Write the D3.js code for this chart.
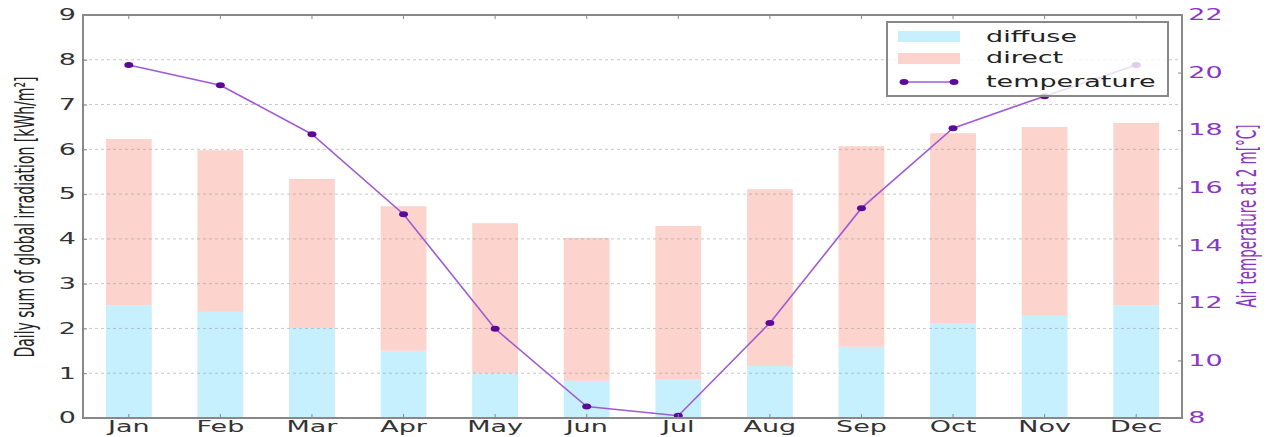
<!DOCTYPE html>
<html>
<head>
<meta charset="utf-8">
<script src="https://cdn.jsdelivr.net/npm/d3@7"></script>
<style>
  body { margin: 0; background: #fff; }
  text { font-family: "DejaVu Sans", sans-serif; }
</style>
</head>
<body>
<div id="vis-container"></div>
<script>
// monthly values
let months = ["Jan","Feb","Mar","Apr","May","Jun","Jul","Aug","Sep","Oct","Nov","Dec"];
let diffuse = [2.52,2.37,2.01,1.50,1.00,0.83,0.87,1.16,1.59,2.12,2.28,2.52];
let direct = [3.71,3.61,3.33,3.23,3.35,3.19,3.42,3.95,4.48,4.24,4.22,4.07];
let temperature = [20.26,19.56,17.86,15.08,11.10,8.40,8.08,11.30,15.29,18.07,19.18,20.26];
let leftTicks = [0,1,2,3,4,5,6,7,8,9];
let rightTicks = [8,10,12,14,16,18,20,22];
let legendLabels = ["diffuse","direct","temperature"];

let w = 1273;
let h = 437;
let m = {left: 83, right: 1182, top: 15, bottom: 418};
let sx = 1.8; // text in the picture is stretched sideways

let cDiffuse = "#c6f0fd";
let cDirect = "#fdd3cd";
let cLine = "#a05ad2";
let cMark = "#5a0a96";
let cPurple = "#8a35c4";

let svg = d3.select("#vis-container")
  .append("svg")
  .attr("width", w)
  .attr("height", h);

let x = d3.scaleBand()
  .domain(months)
  .range([m.left, m.right])
  .paddingInner(0.5)
  .paddingOuter(0.25);

let yL = d3.scaleLinear().domain([0,9]).range([m.bottom, m.top]);
let yR = d3.scaleLinear().domain([8,22]).range([m.bottom, m.top]);

let data = months.map((mo,i)=>{
  return {month: mo, diffuse: diffuse[i], direct: direct[i], temp: temperature[i]};
});

// stacked bars
let bars = svg.append("g");
bars.selectAll(".dif")
  .data(data)
  .enter().append("rect")
  .attr("x", d=>x(d.month))
  .attr("width", x.bandwidth())
  .attr("y", d=>yL(d.diffuse))
  .attr("height", d=>yL(0)-yL(d.diffuse))
  .attr("fill", cDiffuse);
bars.selectAll(".dir")
  .data(data)
  .enter().append("rect")
  .attr("x", d=>x(d.month))
  .attr("width", x.bandwidth())
  .attr("y", d=>yL(d.diffuse+d.direct))
  .attr("height", d=>yL(d.diffuse)-yL(d.diffuse+d.direct))
  .attr("fill", cDirect);

// grid
svg.append("g")
  .selectAll("line")
  .data(leftTicks.slice(1, -1))
  .enter().append("line")
  .attr("x1", m.left).attr("x2", m.right)
  .attr("y1", d=>yL(d)).attr("y2", d=>yL(d))
  .attr("stroke", "#999")
  .attr("stroke-opacity", 0.55)
  .attr("stroke-dasharray", "3,3");

// temperature line
let line = d3.line()
  .x(d=>x(d.month)+x.bandwidth()/2)
  .y(d=>yR(d.temp));

svg.append("path")
  .datum(data)
  .attr("d", line)
  .attr("fill", "none")
  .attr("stroke", cLine)
  .attr("stroke-width", 1.6);

svg.append("g")
  .selectAll("ellipse")
  .data(data)
  .enter().append("ellipse")
  .attr("cx", d=>x(d.month)+x.bandwidth()/2)
  .attr("cy", d=>yR(d.temp))
  .attr("rx", 4.5)
  .attr("ry", 3)
  .attr("fill", cMark);

// axes
function styleAxis(g, color){
  g.select(".domain").remove();
  g.selectAll(".tick line").attr("stroke", "#888");
  g.selectAll(".tick text")
    .attr("fill", color)
    .style("font-size", "15px")
    .style("font-family", "DejaVu Sans, sans-serif")
    .attr("transform", `scale(${sx},1)`);
}

svg.append("g")
  .attr("transform", `translate(0,${m.bottom})`)
  .call(d3.axisBottom(x).tickSize(-4).tickPadding(3))
  .call(g=>styleAxis(g, "#333"));

svg.append("g")
  .attr("transform", `translate(0,${m.top})`)
  .call(d3.axisTop(x).tickSize(-4).tickFormat(""))
  .call(g=>styleAxis(g, "#333"));

svg.append("g")
  .attr("transform", `translate(${m.left},0)`)
  .call(d3.axisLeft(yL).tickValues(leftTicks).tickSize(-4).tickPadding(4))
  .call(g=>styleAxis(g, "#333"));

svg.append("g")
  .attr("transform", `translate(${m.right},0)`)
  .call(d3.axisRight(yR).tickValues(rightTicks).tickSize(-4).tickPadding(3.5))
  .call(g=>styleAxis(g, cPurple));

// frame
svg.append("rect")
  .attr("x", m.left).attr("y", m.top)
  .attr("width", m.right-m.left).attr("height", m.bottom-m.top)
  .attr("fill", "none")
  .attr("stroke", "#888")
  .attr("stroke-width", 2);

// axis titles
svg.append("text")
  .attr("transform", `translate(25,${(m.top+m.bottom)/2+0.5}) scale(${sx},1) rotate(-90)`)
  .attr("text-anchor", "middle")
  .attr("dy", "0.35em")
  .attr("textLength", 281)
  .attr("lengthAdjust", "spacingAndGlyphs")
  .style("font-size", "15px")
  .attr("fill", "#222")
  .text("Daily sum of global irradiation [kWh/m²]");

svg.append("text")
  .attr("transform", `translate(1247,216) scale(${sx},1) rotate(-90)`)
  .attr("text-anchor", "middle")
  .attr("dy", "0.35em")
  .attr("textLength", 183)
  .attr("lengthAdjust", "spacingAndGlyphs")
  .style("font-size", "15px")
  .attr("fill", cPurple)
  .text("Air temperature at 2 m[°C]");

// legend
let lg = svg.append("g");
lg.append("rect")
  .attr("x", 887).attr("y", 22)
  .attr("width", 281).attr("height", 74)
  .attr("fill", "#fff")
  .attr("fill-opacity", 0.8)
  .attr("stroke", "#888")
  .attr("stroke-width", 2);

let rowY = [37, 58, 82];
lg.append("rect")
  .attr("x", 898).attr("y", rowY[0]-6)
  .attr("width", 62).attr("height", 11)
  .attr("fill", cDiffuse);
lg.append("rect")
  .attr("x", 898).attr("y", rowY[1]-5)
  .attr("width", 62).attr("height", 11)
  .attr("fill", cDirect);
lg.append("line")
  .attr("x1", 904).attr("x2", 954)
  .attr("y1", rowY[2]).attr("y2", rowY[2])
  .attr("stroke", cLine)
  .attr("stroke-width", 1.6);
lg.selectAll("ellipse")
  .data([904, 954])
  .enter().append("ellipse")
  .attr("cx", d=>d).attr("cy", rowY[2])
  .attr("rx", 4.5).attr("ry", 3)
  .attr("fill", cMark);

lg.selectAll("text")
  .data(legendLabels)
  .enter().append("text")
  .attr("transform", (d,i)=>`translate(986,${rowY[i]}) scale(${sx},1)`)
  .attr("dy", "0.35em")
  .style("font-size", "15px")
  .attr("fill", "#222")
  .text(d=>d);
</script>
</body>
</html>
